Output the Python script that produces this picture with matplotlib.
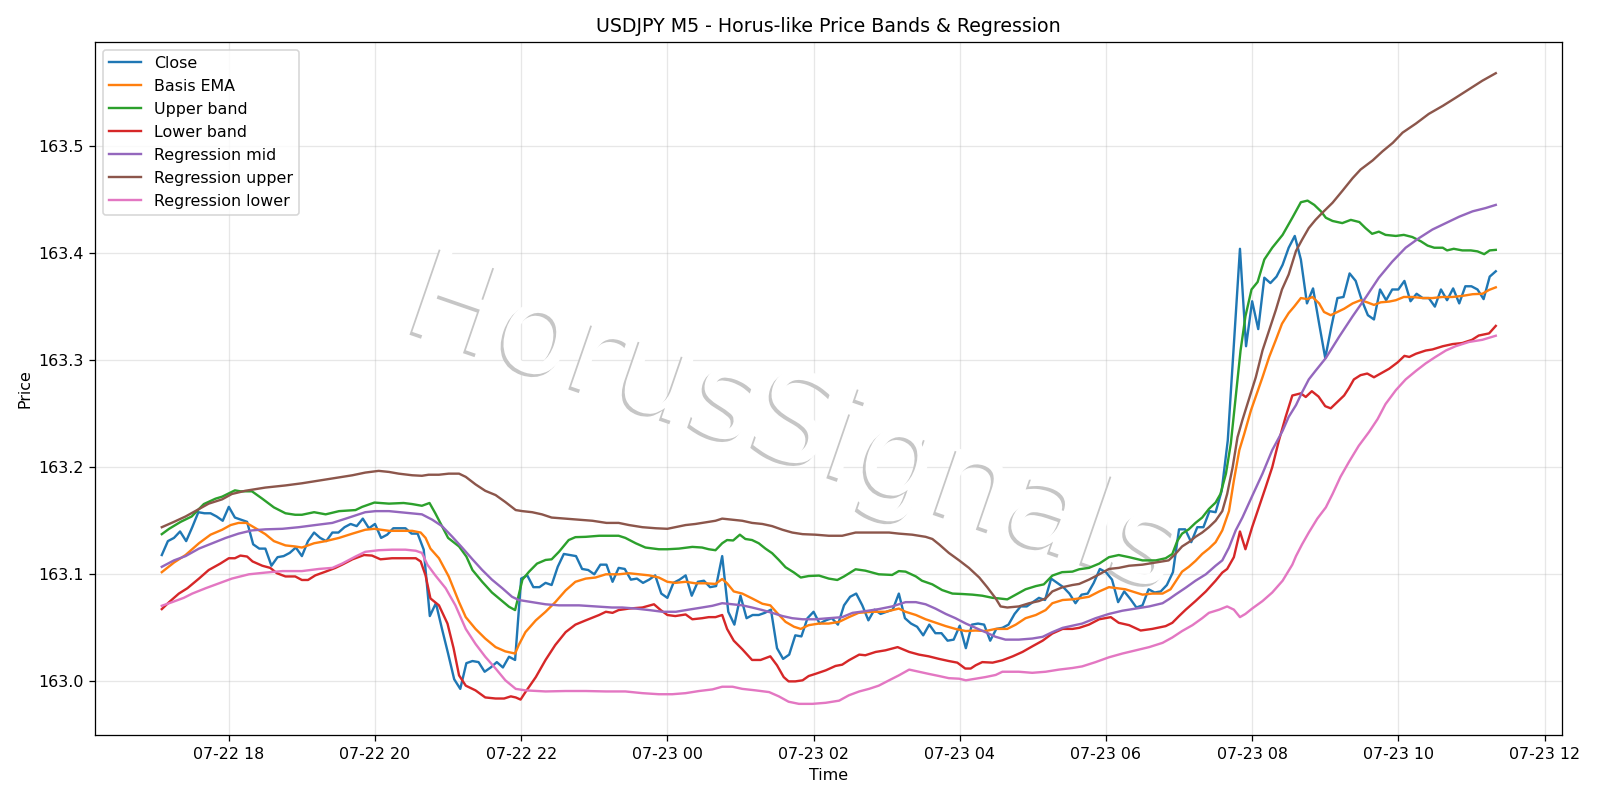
import numpy as np
import pandas as pd
import matplotlib
matplotlib.use("Agg")
import matplotlib.pyplot as plt
import matplotlib.dates as mdates
import matplotlib.patheffects as pe

# USDJPY M5 bars, first bar 07-22 17:05
start = pd.Timestamp("2024-07-22 17:05")

close = [
    163.118, 163.131, 163.134, 163.140, 163.131, 163.144, 163.158, 163.157, 163.157, 163.154,
    163.150, 163.163, 163.153, 163.151, 163.149, 163.128, 163.124, 163.124, 163.108, 163.116,
    163.117, 163.120, 163.125, 163.117, 163.131, 163.139, 163.134, 163.131, 163.139, 163.139,
    163.144, 163.147, 163.145, 163.152, 163.143, 163.147, 163.134, 163.137, 163.143, 163.143,
    163.143, 163.138, 163.138, 163.123, 163.061, 163.073, 163.049, 163.026, 163.002, 162.993,
    163.017, 163.019, 163.018, 163.009, 163.013, 163.018, 163.013, 163.023, 163.020, 163.096,
    163.099, 163.088, 163.088, 163.092, 163.090, 163.107, 163.119, 163.118, 163.117, 163.105,
    163.104, 163.100, 163.109, 163.109, 163.093, 163.106, 163.105, 163.095, 163.096, 163.092,
    163.095, 163.099, 163.082, 163.078, 163.092, 163.095, 163.099, 163.080, 163.093, 163.094,
    163.088, 163.089, 163.117, 163.065, 163.053, 163.080, 163.059, 163.062, 163.062, 163.064,
    163.067, 163.031, 163.021, 163.025, 163.043, 163.042, 163.059, 163.065, 163.054, 163.057,
    163.059, 163.053, 163.071, 163.079, 163.082, 163.071, 163.057, 163.067, 163.063, 163.065,
    163.067, 163.082, 163.059, 163.054, 163.051, 163.043, 163.053, 163.045, 163.045, 163.038,
    163.039, 163.052, 163.031, 163.053, 163.054, 163.053, 163.038, 163.049, 163.050, 163.053,
    163.063, 163.070, 163.070, 163.074, 163.078, 163.076, 163.096, 163.092, 163.088, 163.082,
    163.073, 163.081, 163.082, 163.092, 163.105, 163.102, 163.095, 163.074, 163.084, 163.077,
    163.069, 163.071, 163.086, 163.083, 163.084, 163.090, 163.102, 163.142, 163.142, 163.130,
    163.144, 163.144, 163.159, 163.158, 163.178, 163.225, 163.315, 163.404, 163.313, 163.355,
    163.329, 163.377, 163.372, 163.378, 163.389, 163.405, 163.416, 163.394, 163.353, 163.367,
    163.334, 163.302, 163.331, 163.358, 163.359, 163.381, 163.374, 163.356, 163.342, 163.338,
    163.366, 163.356, 163.366, 163.366, 163.374, 163.355, 163.362, 163.358, 163.358, 163.350,
    163.366, 163.356, 163.367, 163.353, 163.369, 163.369, 163.366, 163.357, 163.378, 163.383,
]

# smoother series, read as (bar offset, price)
ema_x = [0, 2, 3.9, 6.1, 8, 9.9, 11.3, 12.6, 13.9, 15.4, 17, 18.4, 20.3, 21.9, 23, 25, 26.9, 29.1, 31.3, 33.4,
         34.9, 37.3, 38.9, 41.1, 42.5, 43.3, 44.1, 45.5, 47.1, 48.8, 49.9, 51.5, 53.1, 54.8, 56.4, 58, 58.6, 59.7,
         61.4, 63, 64.6, 66.3, 67.9, 69.6, 71.2, 72.9, 75, 76.7, 78.3, 80, 81.6, 83, 84.3, 86, 87.6, 89.3, 90.9,
         92, 92.8, 93.9, 95.3, 96.9, 98.6, 99.9, 101, 102.4, 103.8, 104.9, 106.2, 107.9, 109.5, 111.2, 112.8,
         114.4, 116.6, 118.8, 121, 122.1, 123.8, 125.4, 127.1, 128.7, 130.3, 132, 133.6, 135.2, 136.9, 138.8,
         140.2, 141.8, 143.5, 145.1, 146.2, 147.9, 149.5, 150.6, 152.2, 153.9, 155.5, 156.9, 158.2, 159.9, 161,
         162.6, 164.3, 165.6, 166.4, 167.5, 168.6, 169.7, 170.8, 171.9, 173, 174.1, 175.2, 176, 176.9, 177.7,
         178.8, 179.6, 180.7, 181.8, 182.9, 183.9, 185, 185.9, 187, 188.1, 188.9, 190, 190.8, 191.9, 193, 194.1,
         195.5, 196.8, 197.9, 199, 200.1, 201.5, 202.6, 203.9, 205.3, 207, 208.6, 210.2, 211.9, 213.5, 215.2,
         216.8, 217.9, 219]
ema_y = [163.102, 163.111, 163.118, 163.129, 163.137, 163.1416, 163.146, 163.148, 163.148, 163.143, 163.1375,
         163.131, 163.127, 163.126, 163.125, 163.129, 163.131, 163.134, 163.138, 163.1416, 163.1425, 163.1406,
         163.1406, 163.1406, 163.139, 163.134, 163.124, 163.115, 163.098, 163.074, 163.060, 163.049, 163.040,
         163.032, 163.028, 163.026, 163.034, 163.046, 163.057, 163.065, 163.074, 163.085, 163.093, 163.096,
         163.097, 163.100, 163.100, 163.101, 163.100, 163.099, 163.097, 163.093, 163.092, 163.093, 163.0916,
         163.0916, 163.091, 163.0956, 163.0916, 163.084, 163.082, 163.0775, 163.0725, 163.071, 163.064, 163.0556,
         163.051, 163.049, 163.0525, 163.054, 163.054, 163.0556, 163.060, 163.064, 163.065, 163.065, 163.068,
         163.065, 163.062, 163.058, 163.0547, 163.0516, 163.049, 163.047, 163.0475, 163.047, 163.049, 163.049,
         163.053, 163.059, 163.062, 163.0666, 163.073, 163.076, 163.0766, 163.0775, 163.079, 163.084, 163.088,
         163.087, 163.086, 163.083, 163.081, 163.082, 163.082, 163.086, 163.093, 163.1025, 163.107, 163.1125,
         163.119, 163.124, 163.130, 163.141, 163.159, 163.1875, 163.216, 163.231, 163.253, 163.266, 163.284,
         163.303, 163.319, 163.334, 163.344, 163.350, 163.358, 163.357, 163.359, 163.353, 163.345, 163.342,
         163.345, 163.348, 163.353, 163.356, 163.354, 163.3516, 163.354, 163.3547, 163.356, 163.359, 163.359,
         163.358, 163.358, 163.359, 163.359, 163.360, 163.3616, 163.362, 163.3656, 163.368]

upper_x = [0, 1.2, 3.1, 4.9, 6.9, 8.8, 9.9, 12, 12.9, 14.8, 16.5, 18.4, 20.3, 21.9, 23, 25, 26.9, 29.1, 31.8, 32.9,
           34.9, 37.3, 39.7, 41.1, 42.7, 43.95, 44.9, 45.9, 47, 48.8, 50, 51, 52.6, 54.2, 55.9, 57, 58, 59.2, 60.3,
           61.6, 63, 64, 65.2, 66.8, 67.9, 69.6, 71.8, 73.4, 75, 76.1, 77.8, 79.4, 81.6, 83, 84.9, 87.1, 88.7, 89.8,
           90.9, 92, 92.8, 93.8, 94.9, 95.8, 96.9, 98, 99.1, 100.2, 101.3, 102.4, 103.8, 104.9, 106.2, 107.9, 109.5,
           110.9, 112, 113.9, 115.5, 117.7, 119.9, 121, 122.1, 123.8, 124.8, 126.5, 128.1, 129.8, 131.4, 133.1,
           134.7, 136.4, 137.4, 138.8, 140.2, 141.8, 143.5, 144.8, 146.2, 147.8, 149.5, 150.6, 152.2, 153.9, 155.5,
           157.1, 158.8, 161, 163.2, 164.8, 165.9, 166.7, 167.5, 168.6, 169.7, 170.8, 171.9, 173, 173.8, 174.7,
           175.5, 176.3, 177.1, 177.9, 178.9, 179.9, 181, 182.3, 184, 185.6, 187, 188.1, 189.2, 190.3, 191.1, 192.2,
           193.8, 195.2, 196.6, 197.6, 198.7, 199.8, 200.9, 202.6, 203.9, 205.3, 206.7, 207.8, 208.9, 210.3, 211,
           212.1, 213.5, 214.9, 216, 217.1, 218, 219]
upper_y = [163.1375, 163.1425, 163.149, 163.154, 163.1656, 163.1706, 163.1725, 163.1784, 163.1775, 163.1775,
           163.1706, 163.1625, 163.157, 163.1556, 163.1556, 163.158, 163.156, 163.159, 163.160, 163.163, 163.167,
           163.166, 163.1666, 163.1656, 163.164, 163.1666, 163.157, 163.146, 163.134, 163.126, 163.1166, 163.104,
           163.093, 163.083, 163.075, 163.0697, 163.0666, 163.095, 163.1025, 163.110, 163.1134, 163.114, 163.121,
           163.132, 163.1347, 163.135, 163.136, 163.136, 163.136, 163.134, 163.129, 163.125, 163.1234, 163.1234,
           163.124, 163.1256, 163.125, 163.1234, 163.1225, 163.129, 163.132, 163.1316, 163.137, 163.133, 163.132,
           163.129, 163.124, 163.1197, 163.1134, 163.1066, 163.1016, 163.097, 163.0984, 163.0988, 163.096,
           163.0947, 163.098, 163.1047, 163.1034, 163.100, 163.0994, 163.103, 163.1025, 163.098, 163.094, 163.0906,
           163.0853, 163.082, 163.0816, 163.081, 163.080, 163.078, 163.0775, 163.0766, 163.081, 163.086, 163.089,
           163.0906, 163.0988, 163.102, 163.1025, 163.1047, 163.106, 163.110, 163.116, 163.118, 163.116, 163.113,
           163.113, 163.115, 163.119, 163.131, 163.138, 163.142, 163.148, 163.153, 163.161, 163.167, 163.175,
           163.194, 163.222, 163.266, 163.309, 163.341, 163.366, 163.373, 163.394, 163.405, 163.417, 163.433,
           163.4475, 163.449, 163.445, 163.439, 163.433, 163.430, 163.428, 163.431, 163.429, 163.4234, 163.418,
           163.420, 163.417, 163.416, 163.417, 163.415, 163.411, 163.407, 163.405, 163.405, 163.4025, 163.404,
           163.4025, 163.4025, 163.4016, 163.399, 163.4025, 163.403]

lower_x = [0, 1.2, 2.8, 4.2, 6.1, 7.7, 9.6, 11, 12, 12.9, 14, 14.9, 16.5, 17.8, 18.9, 20.3, 21.9, 23, 24, 25.2, 26.9,
           28.5, 29.6, 31.3, 33.2, 34.5, 35.9, 37.8, 40, 41.7, 42.5, 43.3, 44.1, 45.5, 46.9, 47.9, 48.8, 49.9, 51.5,
           53.1, 54.8, 56.2, 57.3, 58.1, 58.9, 59.7, 61.4, 63, 64.6, 66.3, 67.9, 69.6, 71.8, 72.9, 74, 75, 76.7,
           78.9, 80.8, 81.9, 83, 84.3, 86, 87.1, 88.7, 89.8, 90.9, 92, 92.8, 93.9, 95.3, 96.9, 98.3, 99.9, 101,
           102.1, 102.9, 104, 105.2, 106.2, 107.3, 109, 110.6, 111.7, 112.8, 114.5, 115.5, 117.2, 118.8, 120.8,
           122.7, 124.3, 125.9, 127.6, 129.2, 130.6, 131.9, 132.8, 133.6, 134.7, 136.4, 138, 139.7, 141.3, 143,
           144.6, 146.2, 147.9, 149.5, 150.6, 152.2, 153.9, 155.8, 157.1, 158.8, 160.7, 162.6, 164.8, 165.9, 167,
           168.1, 169.7, 171.4, 173, 174.1, 174.9, 176, 177, 177.9, 179, 180.1, 181.2, 182.3, 183.4, 184.5, 185.6,
           187, 187.8, 188.8, 189.9, 191, 191.9, 193, 194.1, 194.9, 195.7, 196.8, 197.9, 199, 200.1, 201.5, 202.9,
           204, 204.8, 205.9, 207.5, 208.6, 210.3, 211.9, 213.5, 215.1, 216.2, 217.9, 219]
lower_y = [163.0675, 163.074, 163.082, 163.087, 163.096, 163.104, 163.110, 163.115, 163.115, 163.1175, 163.1166,
           163.112, 163.108, 163.106, 163.101, 163.098, 163.098, 163.0947, 163.0947, 163.099, 163.1025, 163.106,
           163.109, 163.114, 163.118, 163.1175, 163.114, 163.115, 163.115, 163.115, 163.112, 163.099, 163.0775,
           163.071, 163.054, 163.031, 163.0056, 162.996, 162.9916, 162.985, 162.984, 162.984, 162.986, 162.985,
           162.983, 162.990, 163.004, 163.020, 163.034, 163.046, 163.053, 163.057, 163.062, 163.065, 163.064,
           163.0666, 163.068, 163.069, 163.072, 163.0666, 163.062, 163.061, 163.0625, 163.058, 163.059, 163.060,
           163.060, 163.062, 163.049, 163.038, 163.030, 163.020, 163.020, 163.0234, 163.015, 163.004, 163.000,
           163.000, 163.001, 163.005, 163.007, 163.0103, 163.0144, 163.0156, 163.0197, 163.025, 163.0244, 163.0275,
           163.029, 163.032, 163.0275, 163.025, 163.0234, 163.021, 163.019, 163.0175, 163.012, 163.012, 163.015,
           163.018, 163.0175, 163.0197, 163.0234, 163.0275, 163.033, 163.038, 163.0447, 163.049, 163.049, 163.050,
           163.053, 163.058, 163.060, 163.0547, 163.0525, 163.0475, 163.049, 163.0516, 163.0547, 163.061, 163.067,
           163.075, 163.084, 163.094, 163.1016, 163.105, 163.116, 163.140, 163.1234, 163.144, 163.1625, 163.181,
           163.200, 163.225, 163.247, 163.267, 163.269, 163.2656, 163.271, 163.266, 163.257, 163.255, 163.261,
           163.267, 163.274, 163.282, 163.286, 163.2875, 163.284, 163.2875, 163.292, 163.298, 163.304, 163.303,
           163.306, 163.309, 163.310, 163.313, 163.315, 163.316, 163.319, 163.323, 163.325, 163.332]

reg_mid_x = [0, 2, 3.9, 6.1, 8.3, 10.5, 12.6, 14.8, 17, 19.8, 22.5, 25.2, 28, 30.2, 31.8, 33.4, 35.1, 37.3, 40, 42.7,
             44.4, 46, 47.7, 49.3, 51, 52.6, 54.2, 55.9, 57.5, 58.6, 60.8, 63, 65.2, 68.5, 71.2, 73.9, 75.6, 77.8,
             80, 82.2, 84.4, 86.5, 88.7, 90.4, 92, 93.7, 95.3, 96.9, 98.6, 100.2, 101.9, 103.5, 105.2, 107.3, 109.5,
             111.7, 113.4, 115.5, 117.7, 119.9, 122.1, 123.8, 125.4, 127, 128.7, 130.3, 132, 133.6, 135.2, 136.9,
             138.5, 140.7, 142.9, 144.6, 146.2, 147.9, 149.5, 151.1, 153.3, 155.5, 157.7, 159.9, 162.1, 164.3,
             165.4, 166.4, 168.1, 169.7, 171.4, 173, 174.1, 175.2, 176.3, 177.4, 179, 180.7, 182.3, 184, 185, 186.2,
             187.2, 188.3, 189.4, 191.1, 193.3, 195.5, 197.7, 199.8, 202, 204.2, 206.4, 208.6, 210.8, 213, 215.2,
             217.3, 219]
reg_mid_y = [163.107, 163.113, 163.117, 163.124, 163.129, 163.134, 163.138, 163.141, 163.142, 163.1425, 163.144,
             163.146, 163.148, 163.152, 163.155, 163.158, 163.159, 163.159, 163.1575, 163.156, 163.151, 163.145,
             163.135, 163.125, 163.114, 163.104, 163.095, 163.087, 163.079, 163.076, 163.074, 163.072, 163.071,
             163.071, 163.070, 163.069, 163.069, 163.068, 163.0666, 163.065, 163.065, 163.067, 163.069, 163.0706,
             163.073, 163.072, 163.071, 163.069, 163.0666, 163.064, 163.061, 163.059, 163.058, 163.058, 163.059,
             163.060, 163.064, 163.0656, 163.0675, 163.070, 163.074, 163.074, 163.072, 163.068, 163.063, 163.059,
             163.054, 163.050, 163.046, 163.0416, 163.039, 163.039, 163.040, 163.0416, 163.046, 163.050, 163.052,
             163.054, 163.059, 163.063, 163.066, 163.068, 163.070, 163.073, 163.077, 163.081, 163.0875, 163.094,
             163.100, 163.108, 163.113, 163.125, 163.141, 163.153, 163.173, 163.194, 163.216, 163.234, 163.247,
             163.258, 163.270, 163.282, 163.290, 163.302, 163.322, 163.341, 163.359, 163.377, 163.392, 163.405,
             163.414, 163.422, 163.428, 163.434, 163.439, 163.442, 163.445]

reg_up_x = [0, 2, 3.9, 5.8, 7.7, 9.9, 11.5, 13.7, 17, 20.3, 23, 25.8, 28.5, 31.3, 33.4, 35.6, 37.3, 38.9, 41.1, 42.7,
            43.8, 45.5, 47.1, 48.8, 49.9, 51.5, 53.1, 54.8, 56.4, 58.1, 59.2, 60.8, 62.4, 64, 66.3, 68.5, 70.7, 73,
            75, 76.7, 78.9, 81.1, 83, 84.3, 86, 87.6, 89.8, 90.9, 92, 93.7, 95.3, 96.9, 98.6, 100.2, 101.9, 103.5,
            105.2, 107.3, 109.5, 111.7, 113.9, 116.6, 119.4, 121, 123.2, 125.4, 126.5, 127.6, 129.2, 130.9, 132.5,
            134.2, 135.5, 136.9, 137.7, 138.8, 140.7, 142.4, 144, 145.1, 146.2, 147.9, 149.5, 150.6, 152.2, 153.9,
            155.5, 157.1, 158.8, 161, 163.2, 165.3, 166.4, 167.5, 168.6, 169.7, 170.8, 171.9, 173, 174.1, 174.9,
            175.8, 176.6, 177.4, 178.5, 179.6, 180.7, 181.8, 182.9, 183.9, 185, 186.2, 187.2, 188.3, 189.4, 190.5,
            192.2, 193.8, 195.5, 196.8, 198.8, 200.4, 202.1, 203.7, 205.9, 208, 210.3, 212.4, 214.6, 216.8, 219]
reg_up_y = [163.144, 163.149, 163.154, 163.160, 163.166, 163.170, 163.175, 163.178, 163.181, 163.183, 163.185,
            163.1875, 163.190, 163.1925, 163.195, 163.1966, 163.1956, 163.194, 163.1925, 163.192, 163.193, 163.193,
            163.194, 163.194, 163.191, 163.184, 163.178, 163.174, 163.1675, 163.160, 163.159, 163.158, 163.156,
            163.153, 163.152, 163.151, 163.150, 163.148, 163.148, 163.146, 163.144, 163.143, 163.1425, 163.144,
            163.146, 163.147, 163.149, 163.150, 163.152, 163.151, 163.150, 163.148, 163.147, 163.145, 163.1416,
            163.139, 163.1375, 163.137, 163.136, 163.136, 163.139, 163.139, 163.139, 163.138, 163.137, 163.135,
            163.133, 163.128, 163.120, 163.113, 163.106, 163.097, 163.088, 163.0775, 163.070, 163.069, 163.070,
            163.073, 163.075, 163.0775, 163.084, 163.088, 163.090, 163.091, 163.095, 163.100, 163.105, 163.106,
            163.108, 163.109, 163.111, 163.113, 163.119, 163.126, 163.130, 163.135, 163.139, 163.144, 163.150,
            163.159, 163.175, 163.200, 163.228, 163.244, 163.264, 163.284, 163.309, 163.328, 163.347, 163.366,
            163.380, 163.402, 163.4125, 163.4234, 163.431, 163.4375, 163.447, 163.458, 163.470, 163.478, 163.4866,
            163.495, 163.503, 163.5125, 163.521, 163.530, 163.5375, 163.545, 163.553, 163.561, 163.568]

reg_lo_x = [0, 1.7, 3.6, 5, 7.2, 9.4, 11.5, 14.3, 17, 19.8, 23, 25.8, 28, 29.6, 31.8, 33.4, 35.6, 37.8, 40, 41.7,
            42.7, 43.6, 44.9, 46.6, 48.2, 49.9, 51.5, 53.1, 54.8, 56.4, 58.1, 59.7, 63, 66.3, 69.6, 72.9, 76.1,
            78.9, 81.6, 83.8, 86, 88.2, 90.4, 92, 93.7, 95.3, 97.5, 99.7, 101.3, 102.9, 104.6, 106.8, 109, 111.2,
            112.8, 114.5, 116.1, 117.7, 119.4, 121, 122.7, 124.3, 125.9, 127.6, 129.2, 130.9, 132, 133.6, 135.2,
            136.9, 138, 140.7, 142.9, 145.1, 147.3, 149.5, 151.1, 153.3, 155.5, 157.7, 159.9, 162.1, 164.3, 165.9,
            167.5, 169.2, 170.8, 171.9, 173.6, 174.9, 176, 177, 177.9, 179, 180.7, 182.3, 184, 185.6, 186.2, 187.2,
            188.3, 189.7, 191.1, 192.2, 193.5, 194.9, 196.5, 198.2, 199.6, 200.9, 202.6, 204.2, 205.9, 207.5,
            209.1, 210.8, 212.4, 214.6, 216.8, 219]
reg_lo_y = [163.0706, 163.074, 163.078, 163.082, 163.087, 163.0916, 163.096, 163.100, 163.1016, 163.103, 163.103,
            163.105, 163.106, 163.110, 163.1166, 163.121, 163.1225, 163.123, 163.123, 163.122, 163.120, 163.109,
            163.099, 163.087, 163.071, 163.049, 163.035, 163.023, 163.012, 163.001, 162.993, 162.9916, 162.9906,
            162.991, 162.991, 162.9906, 162.9906, 162.989, 162.988, 162.988, 162.989, 162.991, 162.9925, 162.995,
            162.995, 162.993, 162.9916, 162.990, 162.986, 162.981, 162.979, 162.979, 162.980, 162.982, 162.987,
            162.9906, 162.993, 162.996, 163.001, 163.0056, 163.011, 163.009, 163.007, 163.005, 163.003, 163.0025,
            163.001, 163.0025, 163.004, 163.006, 163.009, 163.009, 163.008, 163.009, 163.011, 163.0125, 163.014,
            163.018, 163.0225, 163.026, 163.029, 163.032, 163.036, 163.041, 163.047, 163.0525, 163.059, 163.064,
            163.067, 163.070, 163.067, 163.060, 163.063, 163.068, 163.075, 163.083, 163.094, 163.109, 163.117,
            163.128, 163.139, 163.152, 163.1625, 163.175, 163.191, 163.205, 163.220, 163.233, 163.245, 163.259,
            163.272, 163.282, 163.290, 163.297, 163.303, 163.309, 163.313, 163.317, 163.319, 163.3228]


def to_time(bars):
    return start + pd.to_timedelta(np.asarray(bars, dtype=float) * 5, unit="min")


fig, ax = plt.subplots(figsize=(14, 7), dpi=114.2858)

# watermark behind the lines
ax.text(0.476, 0.445, "HorusSignals", transform=ax.transAxes, fontsize=78,
        rotation=-19, color="white", ha="center", va="center", zorder=1.8,
        path_effects=[pe.SimplePatchShadow(offset=(-1.8, -1.8), shadow_rgbFace="#c6c6c6", alpha=1.0),
                      pe.Normal()])

ax.plot(to_time(range(len(close))), close, label="Close")
ax.plot(to_time(ema_x), ema_y, label="Basis EMA")
ax.plot(to_time(upper_x), upper_y, label="Upper band")
ax.plot(to_time(lower_x), lower_y, label="Lower band")
ax.plot(to_time(reg_mid_x), reg_mid_y, label="Regression mid")
ax.plot(to_time(reg_up_x), reg_up_y, label="Regression upper")
ax.plot(to_time(reg_lo_x), reg_lo_y, label="Regression lower")

ax.xaxis.set_major_locator(mdates.HourLocator(interval=2))
ax.xaxis.set_major_formatter(mdates.DateFormatter("%m-%d %H"))
ax.set_title("USDJPY M5 - Horus-like Price Bands & Regression")
ax.set_xlabel("Time")
ax.set_ylabel("Price")
ax.grid(True, alpha=0.3)
ax.legend(loc="upper left")

fig.tight_layout()
fig.savefig("out.png", dpi=fig.dpi)
